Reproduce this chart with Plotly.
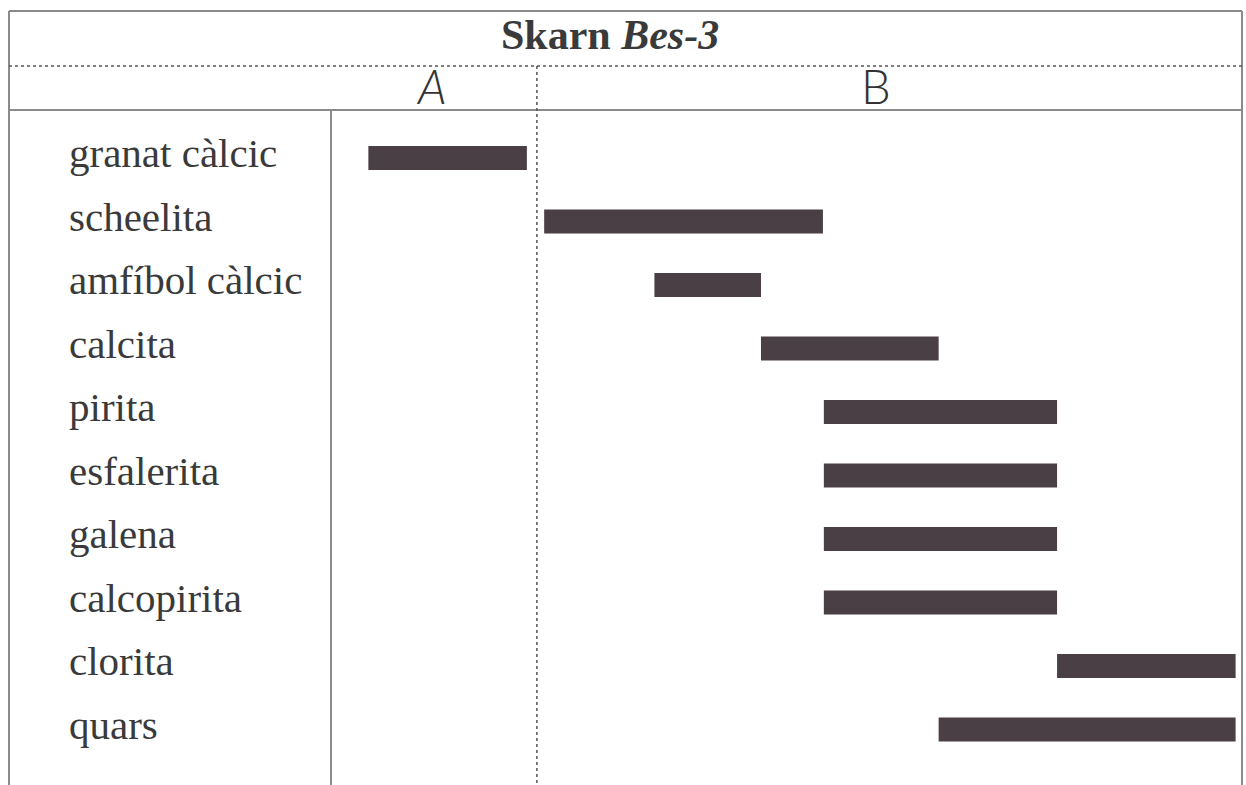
import plotly.graph_objects as go

W, H = 1246, 785

minerals = ["granat càlcic", "scheelita", "amfíbol càlcic", "calcita", "pirita",
            "esfalerita", "galena", "calcopirita", "clorita", "quars"]
start = [4.1, 23.4, 35.5, 47.2, 54.1, 54.1, 54.1, 54.1, 79.7, 66.7]
end = [21.5, 54.0, 47.2, 66.7, 79.7, 79.7, 79.7, 79.7, 99.3, 99.3]
stages = ["A", "B"]
stage_boundary = 22.6
title_main = "Skarn"
title_sample = "Bes-3"

BAR = "#4a3f45"
FRAME = "#8a8a8a"
DOT = "#555555"
SERIF = "Liberation Serif, Times New Roman, serif"

def px(x):
    return x / W

def py(y):
    return 1 - y / H

fig = go.Figure()
fig.add_trace(go.Bar(
    y=minerals,
    x=[e - s for s, e in zip(start, end)],
    base=start,
    orientation="h",
    width=0.38,
    marker=dict(color=BAR, line=dict(width=0)),
    hoverinfo="skip",
))

x0_dom, x1_dom = px(331), px(1242)
fig.update_layout(
    width=W, height=H,
    margin=dict(l=0, r=0, t=0, b=0),
    paper_bgcolor="white", plot_bgcolor="white",
    showlegend=False,
    xaxis=dict(domain=[x0_dom, x1_dom], range=[0, 100], visible=False, fixedrange=True),
    yaxis=dict(domain=[0, py(110)], type="category", categoryorder="array",
               categoryarray=minerals, range=[9.874, -0.756], visible=False, fixedrange=True),
)

shapes = []
shapes.append(dict(type="line", xref="paper", yref="paper", x0=px(9), x1=px(1242), y0=py(11), y1=py(11),
                   line=dict(color=FRAME, width=2)))
shapes.append(dict(type="line", xref="paper", yref="paper", x0=px(9), x1=px(9), y0=py(11), y1=0,
                   line=dict(color=FRAME, width=2)))
shapes.append(dict(type="line", xref="paper", yref="paper", x0=px(1242), x1=px(1242), y0=py(11), y1=0,
                   line=dict(color=FRAME, width=2)))
shapes.append(dict(type="line", xref="paper", yref="paper", x0=px(9), x1=px(1242), y0=py(66), y1=py(66),
                   line=dict(color=DOT, width=1.5, dash="dot")))
shapes.append(dict(type="line", xref="paper", yref="paper", x0=px(9), x1=px(1242), y0=py(110), y1=py(110),
                   line=dict(color=FRAME, width=2)))
shapes.append(dict(type="line", xref="paper", yref="paper", x0=px(331), x1=px(331), y0=py(110), y1=0,
                   line=dict(color=FRAME, width=2)))
shapes.append(dict(type="line", xref="x", yref="paper", x0=stage_boundary, x1=stage_boundary, y0=py(66), y1=0,
                   line=dict(color=DOT, width=1.5, dash="dot")))
fig.update_layout(shapes=shapes)

ann = []
ann.append(dict(xref="paper", yref="paper", x=px(610), y=py(35), xanchor="center", yanchor="middle",
                text=f"<b>{title_main} <i>{title_sample}</i></b>", showarrow=False,
                font=dict(family=SERIF, size=42, color="#3a3a3a")))
ann.append(dict(xref="paper", yref="paper", x=px(431), y=py(86), xanchor="center", yanchor="middle",
                text=f"<i>{stages[0]}</i>", showarrow=False,
                font=dict(family="Lato, Liberation Sans, sans-serif", size=47, color="#333333", weight=300)))
ann.append(dict(xref="paper", yref="paper", x=px(876), y=py(86), xanchor="center", yanchor="middle",
                text=stages[1], showarrow=False,
                font=dict(family="Lato, Liberation Sans, sans-serif", size=47, color="#333333", weight=300)))
for m in minerals:
    ann.append(dict(xref="paper", yref="y", x=px(67), y=m, xanchor="left", yanchor="middle",
                    yshift=5, text=m, showarrow=False,
                    font=dict(family=SERIF, size=41, color="#3a3a3a")))
fig.update_layout(annotations=ann)

fig.write_html("out.html", config={"displayModeBar": False},
               post_script="document.body.style.margin='0';document.body.style.padding='0';")
